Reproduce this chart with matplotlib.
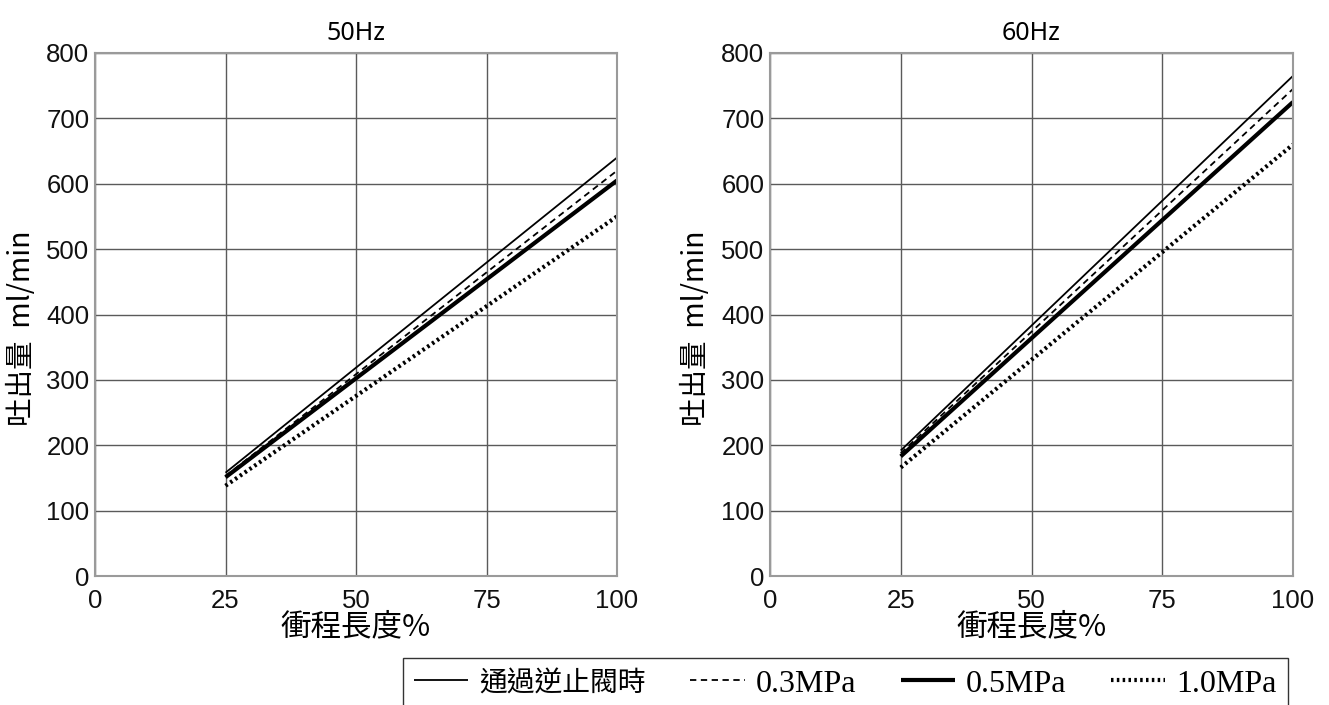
import matplotlib
matplotlib.use("Agg")
from matplotlib import pyplot as plt

plt.rcParams['font.family'] = ['Liberation Sans', 'Noto Sans CJK TC']

# stroke length %
stroke = [25, 100]
titles = ["50Hz", "60Hz"]
labels = ["通過逆止閥時", "0.3MPa", "0.5MPa", "1.0MPa"]
# discharge ml/min at 25% and 100%
hz50_check = [158, 640]
hz50_03 = [153, 620]
hz50_05 = [151, 605]
hz50_10 = [138, 550]
hz60_check = [192, 765]
hz60_03 = [188, 745]
hz60_05 = [183, 725]
hz60_10 = [166, 660]

styles = [dict(ls="-", lw=1.3), dict(ls=(0, (3.5, 2.5)), lw=1.3),
          dict(ls="-", lw=3.0), dict(ls=(0, (0.6, 0.8)), lw=3.0)]

fig = plt.figure(figsize=(13.29, 7.05), dpi=100)
W, H = 1329, 705
boxes = [(95, 53, 617, 576), (770, 53, 1293, 576)]
series = [[hz50_check, hz50_03, hz50_05, hz50_10],
          [hz60_check, hz60_03, hz60_05, hz60_10]]

handles = []
for (x0, y0, x1, y1), title, data in zip(boxes, titles, series):
    ax = fig.add_axes([x0 / W, 1 - y1 / H, (x1 - x0) / W, (y1 - y0) / H])
    for vals, st in zip(data, styles):
        l, = ax.plot(stroke, vals, color="black", solid_capstyle="butt", **st)
        if len(handles) < 4:
            handles.append(l)
    ax.set_xlim(0, 100)
    ax.set_ylim(0, 800)
    ax.set_xticks([0, 25, 50, 75, 100])
    ax.set_yticks(range(0, 801, 100))
    ax.grid(True, color="#5a5a5a", lw=1.0)
    for s in ax.spines.values():
        s.set_color("#9a9a9a")
        s.set_linewidth(1.5)
    ax.tick_params(labelsize=18.5, length=0, pad=4, colors="#111111")
    ax.tick_params(axis="x", pad=9)
    ax.set_title(title, fontsize=18, pad=9, family=["Noto Sans", "DejaVu Sans"])
    ax.set_xlabel("衝程長度%", fontsize=22,
                  family=["Noto Sans CJK JP", "DejaVu Sans"])
    ax.set_ylabel("吐出量  ml/min", fontsize=20.5,
                  family=["Noto Sans CJK JP", "DejaVu Sans"])
    ax.xaxis.set_label_coords(0.5, -0.068)
    ax.yaxis.set_label_coords(-0.112, 0.474)

leg = fig.legend(handles, labels, ncol=4, loc="upper left",
                 bbox_to_anchor=(403 / W, 0, 885 / W, 1 - 658 / H),
                 mode="expand", fancybox=False, edgecolor="#333333", framealpha=1,
                 borderaxespad=0, handlelength=1.7, handletextpad=0.35,
                 columnspacing=0.4, borderpad=0.35,
                 prop=dict(family=["Liberation Serif", "Noto Sans CJK TC"], size=23))
leg.get_frame().set_linewidth(1.0)
leg.get_texts()[0].set_fontsize(20)
for h in leg.legend_handles:
    h.set_color("black")

fig.savefig("out.png", dpi=100)
